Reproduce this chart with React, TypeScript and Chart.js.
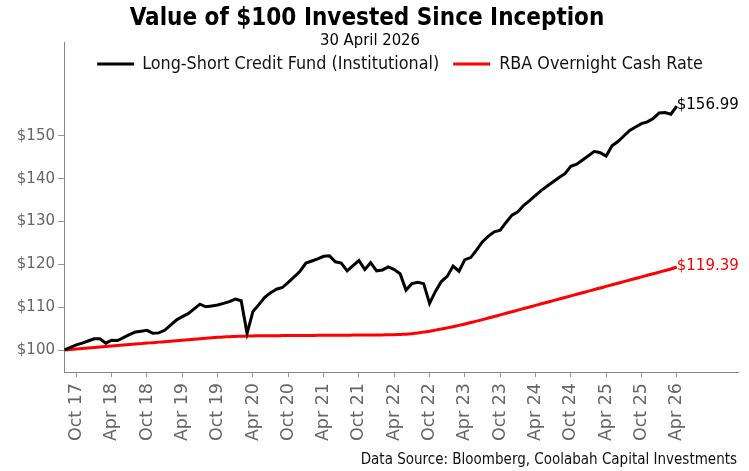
import { useEffect, useRef } from "react";
import { Chart, registerables } from "chart.js";

Chart.register(...registerables);

const chartTitle = "Value of $100 Invested Since Inception";
const chartSubtitle = "30 April 2026";
const sourceNote = "Data Source: Bloomberg, Coolabah Capital Investments";

const seriesNames = ["Long-Short Credit Fund (Institutional)", "RBA Overnight Cash Rate"];
const seriesColors = ["#000000", "#ff0000"];

// month offset of first observation relative to Oct 2017 (Aug 2017)
const firstMonthOffset = -2;

const tickLabels = [
  "Oct 17", "Apr 18", "Oct 18", "Apr 19", "Oct 19", "Apr 20", "Oct 20", "Apr 21", "Oct 21",
  "Apr 22", "Oct 22", "Apr 23", "Oct 23", "Apr 24", "Oct 24", "Apr 25", "Oct 25", "Apr 26",
];

const yTickValues = [100, 110, 120, 130, 140, 150];

const fundValues = [
  100.0, 100.6, 101.2, 101.6, 102.1, 102.6, 102.6, 101.6, 102.3, 102.2,
  102.9, 103.6, 104.2, 104.4, 104.6, 103.9, 104.0, 104.6, 105.8, 107.0,
  107.8, 108.5, 109.6, 110.7, 110.1, 110.3, 110.5, 110.9, 111.3, 111.9,
  111.5, 103.9, 109.0, 110.6, 112.3, 113.4, 114.2, 114.6, 115.8, 117.1,
  118.4, 120.3, 120.8, 121.3, 121.9, 122.0, 120.6, 120.3, 118.5, 119.7,
  120.9, 118.8, 120.4, 118.5, 118.7, 119.4, 118.8, 117.8, 114.0, 115.5,
  115.8, 115.5, 110.9, 113.7, 116.0, 117.2, 119.6, 118.4, 121.1, 121.6,
  123.4, 125.3, 126.6, 127.6, 128.0, 129.8, 131.5, 132.3, 133.8, 134.9,
  136.1, 137.3, 138.3, 139.3, 140.3, 141.2, 142.9, 143.4, 144.4, 145.4,
  146.4, 146.1, 145.3, 147.7, 148.7, 150.0, 151.3, 152.1, 152.9, 153.3,
  154.1, 155.4, 155.5, 155.1, 156.99,
];

const cashValues = [
  100.0, 100.11, 100.23, 100.34, 100.46, 100.57, 100.69, 100.8, 100.92, 101.03,
  101.15, 101.26, 101.38, 101.49, 101.61, 101.72, 101.84, 101.95, 102.07, 102.18,
  102.3, 102.41, 102.53, 102.64, 102.75, 102.86, 102.96, 103.04, 103.11, 103.17,
  103.22, 103.26, 103.29, 103.31, 103.33, 103.34, 103.35, 103.36, 103.37, 103.38,
  103.39, 103.4, 103.41, 103.42, 103.43, 103.44, 103.45, 103.46, 103.47, 103.48,
  103.49, 103.5, 103.51, 103.52, 103.53, 103.55, 103.58, 103.62, 103.7, 103.82,
  103.98, 104.18, 104.4, 104.64, 104.9, 105.17, 105.45, 105.76, 106.08, 106.41,
  106.75, 107.1, 107.46, 107.83, 108.2, 108.57, 108.94, 109.31, 109.68, 110.05,
  110.42, 110.79, 111.16, 111.53, 111.9, 112.27, 112.64, 113.01, 113.38, 113.75,
  114.12, 114.49, 114.86, 115.23, 115.6, 115.97, 116.34, 116.71, 117.08, 117.45,
  117.82, 118.19, 118.56, 118.93, 119.39,
];

const SANS = "'DejaVu Sans', Verdana, sans-serif";
const COND = "'DejaVu Sans Condensed', 'DejaVu Sans', sans-serif";

const overlayPlugin = {
  id: "overlay",
  afterDraw(chart: any) {
    const ctx = chart.ctx as CanvasRenderingContext2D;
    ctx.save();
    ctx.textBaseline = "middle";

    // title + subtitle
    ctx.fillStyle = "#000";
    ctx.textAlign = "center";
    ctx.font = `bold 24px ${COND}`;
    ctx.fillText(chartTitle, 367, 19);
    ctx.font = `16.5px ${COND}`;
    ctx.fillText(chartSubtitle, 370, 41);

    // legend
    ctx.font = `17.8px ${COND}`;
    const lineLen = 37;
    const w1 = ctx.measureText(seriesNames[0]).width;
    const w2 = ctx.measureText(seriesNames[1]).width;
    const total = lineLen + 8 + w1 + 14 + lineLen + 9 + w2;
    let x = 400 - total / 2;
    const ly = 64;
    ctx.textAlign = "left";
    for (let i = 0; i < 2; i++) {
      ctx.strokeStyle = seriesColors[i];
      ctx.lineWidth = 3;
      ctx.beginPath();
      ctx.moveTo(x, ly);
      ctx.lineTo(x + lineLen, ly);
      ctx.stroke();
      x += lineLen + (i === 0 ? 8 : 9);
      ctx.fillStyle = "#111";
      ctx.fillText(seriesNames[i], x, ly);
      x += (i === 0 ? w1 : w2) + 14;
    }

    // end labels
    ctx.font = `15px ${SANS}`;
    chart.data.datasets.forEach((ds: any, i: number) => {
      const meta = chart.getDatasetMeta(i);
      const pt = meta.data[meta.data.length - 1];
      const v = ds.data[ds.data.length - 1].y;
      ctx.fillStyle = seriesColors[i];
      ctx.fillText("$" + v.toFixed(2), pt.x, pt.y - 1);
    });

    // source
    ctx.fillStyle = "#111";
    ctx.textAlign = "right";
    ctx.font = `15px ${COND}`;
    ctx.fillText(sourceNote, 737, 460);
    ctx.restore();
  },
};

export default function App() {
  const ref = useRef<HTMLCanvasElement | null>(null);

  useEffect(() => {
    if (!ref.current) return;
    const toPoints = (vals: number[]) => vals.map((v, i) => ({ x: i + firstMonthOffset, y: v }));
    const chart = new Chart(ref.current, {
      type: "line",
      data: {
        datasets: [
          {
            label: seriesNames[0],
            data: toPoints(fundValues),
            borderColor: seriesColors[0],
            backgroundColor: seriesColors[0],
            borderWidth: 3,
            pointRadius: 0,
            tension: 0,
          },
          {
            label: seriesNames[1],
            data: toPoints(cashValues),
            borderColor: seriesColors[1],
            backgroundColor: seriesColors[1],
            borderWidth: 3,
            pointRadius: 0,
            tension: 0.2,
          },
        ],
      },
      options: {
        animation: false,
        responsive: false,
        maintainAspectRatio: false,
        layout: { padding: { left: 0, right: 11, top: 42, bottom: 0 } },
        plugins: {
          legend: { display: false },
          title: { display: false },
          tooltip: { enabled: false },
        },
        scales: {
          x: {
            type: "linear",
            min: -2.1,
            max: 112.4,
            afterFit: (scale: any) => {
              scale.height = 99;
            },
            afterBuildTicks: (scale: any) => {
              scale.ticks = tickLabels.map((_, i) => ({ value: i * 6 }));
            },
            grid: {
              display: true,
              drawOnChartArea: false,
              drawTicks: true,
              tickLength: 5,
              color: "#999",
            },
            border: { display: true, color: "#888", width: 1 },
            ticks: {
              autoSkip: false,
              minRotation: 90,
              maxRotation: 90,
              padding: 6,
              color: "#666",
              font: { family: SANS, size: 17.5 },
              callback: (v: any) => tickLabels[Math.round(Number(v) / 6)] ?? "",
            },
          },
          y: {
            min: 94.86,
            max: 171.96,
            afterFit: (scale: any) => {
              scale.width = 64;
            },
            afterBuildTicks: (scale: any) => {
              scale.ticks = yTickValues.map((v) => ({ value: v }));
            },
            grid: {
              display: true,
              drawOnChartArea: false,
              drawTicks: true,
              tickLength: 6,
              color: "#999",
            },
            border: { display: true, color: "#888", width: 1 },
            ticks: {
              padding: 3,
              color: "#666",
              font: { family: SANS, size: 15 },
              callback: (v: any) => "$" + v,
            },
          },
        },
      },
      plugins: [overlayPlugin],
    });
    return () => chart.destroy();
  }, []);

  return (
    <div style={{ position: "absolute", left: 0, top: 0, width: 749, height: 471, background: "#fff" }}>
      <canvas ref={ref} width={749} height={471} style={{ width: 749, height: 471 }} />
    </div>
  );
}
